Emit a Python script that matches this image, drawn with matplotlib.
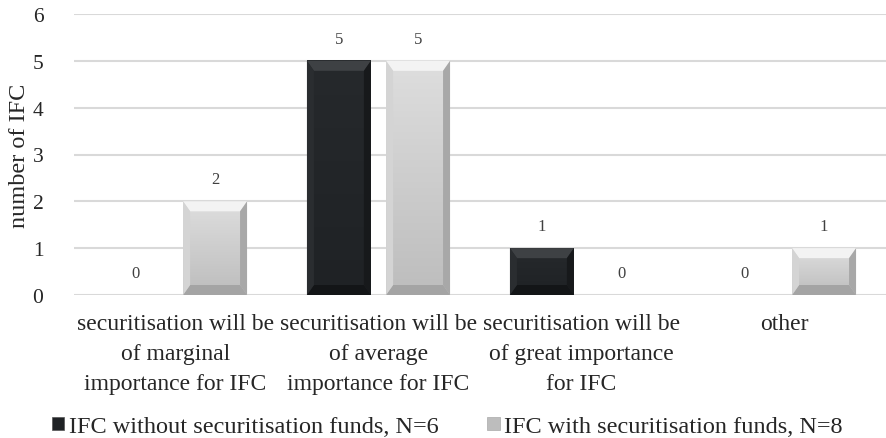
import numpy as np
import matplotlib.pyplot as plt
from matplotlib.patches import Polygon, Patch
from matplotlib.colors import LinearSegmentedColormap

categories = ['securitisation will be\nof marginal\nimportance for IFC',
              'securitisation will be\nof average\nimportance for IFC',
              'securitisation will be\nof great importance\nfor IFC',
              'other']
without_funds = [0, 5, 1, 0]
with_funds = [2, 5, 0, 1]
series_names = ['IFC without securitisation funds, N=6',
                'IFC with securitisation funds, N=8']

plt.rcParams['font.family'] = ['Liberation Serif', 'DejaVu Serif']

# kolory: twarz (gora, dol gradientu), bevel gora, lewo, prawo, dol
dark = dict(face=('#26292c', '#1f2225'), top='#3e4144', left='#2a2d30',
            right='#17191b', bottom='#131517')
light = dict(face=('#dedede', '#bdbdbd'), top='#f3f3f3', left='#d4d4d4',
             right='#a8a8a8', bottom='#a4a4a4')

fig = plt.figure(figsize=(8.86, 4.39), dpi=100)
ax = fig.add_axes([74 / 886, 1 - 296 / 439, 812 / 886, 281 / 439])
xlim = (-0.5, 3.5)
ylim = (0, 6)

bw = 0.315
off = 0.195
px_x = (xlim[1] - xlim[0]) / 812
px_y = (ylim[1] - ylim[0]) / 281
bev_x = 7
bev_y = 10


def bevel_bar(xc, val, kol):
    if val <= 0:
        return
    x0, x1 = xc - bw / 2, xc + bw / 2
    y0, y1 = 0, val
    bx, by = bev_x * px_x, bev_y * px_y
    grad = np.linspace(0, 1, 100).reshape(-1, 1)
    cm = LinearSegmentedColormap.from_list('g', [kol['face'][1], kol['face'][0]])
    ax.imshow(grad, extent=(x0, x1, y0, y1), origin='lower', cmap=cm,
              aspect='auto', zorder=3)
    polys = [
        ([(x0, y1), (x1, y1), (x1 - bx, y1 - by), (x0 + bx, y1 - by)], kol['top']),
        ([(x0, y0), (x1, y0), (x1 - bx, y0 + by), (x0 + bx, y0 + by)], kol['bottom']),
        ([(x0, y0), (x0, y1), (x0 + bx, y1 - by), (x0 + bx, y0 + by)], kol['left']),
        ([(x1, y0), (x1, y1), (x1 - bx, y1 - by), (x1 - bx, y0 + by)], kol['right']),
    ]
    for pts, c in polys:
        ax.add_patch(Polygon(pts, closed=True, facecolor=c, edgecolor='none', zorder=4))


x = np.arange(len(categories))
for i in range(len(categories)):
    bevel_bar(x[i] - off, without_funds[i], dark)
    bevel_bar(x[i] + off, with_funds[i], light)
    ax.annotate(str(without_funds[i]), (x[i] - off, without_funds[i]), xytext=(0, 10),
                textcoords='offset points', ha='center', va='bottom',
                fontsize=12, color='#404040')
    ax.annotate(str(with_funds[i]), (x[i] + off, with_funds[i]), xytext=(0, 10),
                textcoords='offset points', ha='center', va='bottom',
                fontsize=12, color='#404040')

ax.set_xlim(*xlim)
ax.set_ylim(*ylim)
ax.set_yticks(range(0, 7))
ax.set_xticks(x)
ax.set_xticklabels(categories, fontsize=17, linespacing=1.55, color='#262626')
ax.tick_params(axis='y', length=0, pad=22, labelsize=15.5, labelcolor='#262626')
ax.tick_params(axis='x', length=0, pad=13)
ax.grid(axis='y', color='#d9d9d9', linewidth=1.5, zorder=0)
ax.set_axisbelow(True)
for s in ax.spines.values():
    s.set_visible(False)
ax.set_ylabel('number of IFC', fontsize=17.5, labelpad=2, color='#262626')

handles = [Patch(facecolor=dark['face'][1], edgecolor='#555555', linewidth=0.5),
           Patch(facecolor=light['face'][1], edgecolor='#aaaaaa', linewidth=0.5)]
fig.legend(handles, series_names, loc='lower center', bbox_to_anchor=(0.505, -0.048),
           ncol=2, frameon=False, fontsize=17.5, handlelength=0.5, handleheight=0.5,
           handletextpad=0.2, columnspacing=2.0, labelcolor='#262626')

fig.savefig('out.png', dpi=100)
